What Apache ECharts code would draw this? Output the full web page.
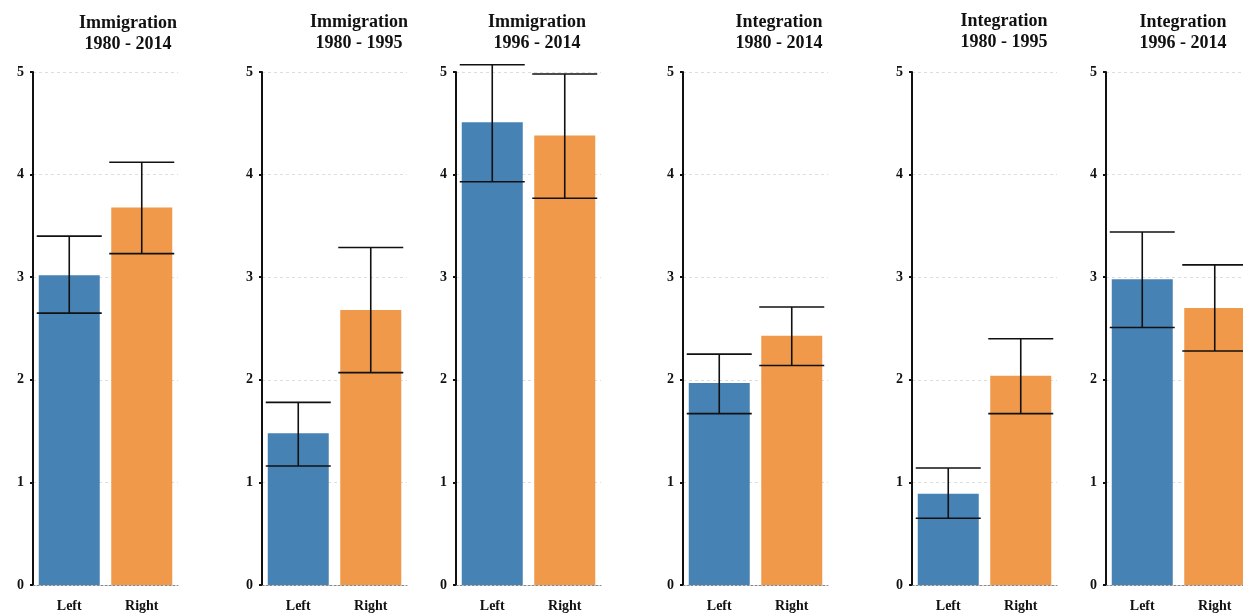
<!DOCTYPE html>
<html>
<head>
<meta charset="utf-8">
<script src="https://cdn.jsdelivr.net/npm/echarts@6/dist/echarts.min.js"></script>
<style>
  html, body { margin: 0; padding: 0; background: #fff; overflow: hidden; }
  #chart { width: 1262px; height: 613px; }
</style>
</head>
<body>
<div id="chart"></div>
<script>
// Mean attention score by ideology, with confidence intervals
const categories = ['Left', 'Right'];
const panelTopics = ['Immigration', 'Immigration', 'Immigration', 'Integration', 'Integration', 'Integration'];
const panelPeriods = ['1980 - 2014', '1980 - 1995', '1996 - 2014', '1980 - 2014', '1980 - 1995', '1996 - 2014'];

const means = [
  [3.02, 3.68],
  [1.48, 2.68],
  [4.51, 4.38],
  [1.97, 2.43],
  [0.89, 2.04],
  [2.98, 2.70]
];
const upper = [
  [3.40, 4.12],
  [1.78, 3.29],
  [5.07, 4.98],
  [2.25, 2.71],
  [1.14, 2.40],
  [3.44, 3.12]
];
const lower = [
  [2.65, 3.23],
  [1.16, 2.07],
  [3.93, 3.77],
  [1.67, 2.14],
  [0.65, 1.67],
  [2.51, 2.28]
];
const yTicks = [0, 1, 2, 3, 4, 5];

// layout of the six small multiples
const gridLefts = [33, 262, 456, 683, 912, 1106];
const titleCenters = [128, 359, 537, 779, 1004, 1183];
const titleTops = [13, 12, 12, 12, 11, 12];
const barColors = ['#4682b4', '#f0994a'];
const serif = '"Liberation Serif", "DejaVu Serif", serif';

const grids = [], xAxes = [], yAxes = [], series = [], graphics = [];

for (let i = 0; i < 6; i++) {
  grids.push({ left: gridLefts[i], top: 72, width: 145, height: 514 });
  xAxes.push({
    type: 'category', gridIndex: i, data: categories,
    axisLine: { lineStyle: { color: '#888', type: [2, 2], width: 1 } },
    axisTick: { show: false },
    axisLabel: { color: '#111', fontFamily: serif, fontWeight: 'bold', fontSize: 14, margin: 14 }
  });
  yAxes.push({
    type: 'value', gridIndex: i, min: yTicks[0], max: yTicks[yTicks.length - 1], interval: 1,
    axisLine: { show: true, lineStyle: { color: '#111', width: 2 } },
    axisTick: { show: true, length: 3, lineStyle: { color: '#111', width: 2 } },
    axisLabel: { color: '#111', fontFamily: serif, fontWeight: 'bold', fontSize: 14, margin: 9 },
    splitLine: { show: true, lineStyle: { color: '#ddd', type: [3, 3], width: 1 } }
  });
  series.push({
    type: 'bar', xAxisIndex: i, yAxisIndex: i, barWidth: 61,
    data: means[i].map((v, j) => ({ value: v, itemStyle: { color: barColors[j] } })),
    z: 2
  });
  series.push({
    type: 'custom', xAxisIndex: i, yAxisIndex: i, z: 5,
    data: categories.map((c, j) => [j, lower[i][j], upper[i][j]]),
    renderItem: function (params, api) {
      const lo = api.coord([api.value(0), api.value(1)]);
      const hi = api.coord([api.value(0), api.value(2)]);
      const half = 32.5;
      const style = { stroke: '#111', lineWidth: 1.6 };
      return {
        type: 'group',
        children: [
          { type: 'line', shape: { x1: hi[0], y1: hi[1], x2: lo[0], y2: lo[1] }, style: style },
          { type: 'line', shape: { x1: hi[0] - half, y1: hi[1], x2: hi[0] + half, y2: hi[1] }, style: style },
          { type: 'line', shape: { x1: lo[0] - half, y1: lo[1], x2: lo[0] + half, y2: lo[1] }, style: style }
        ]
      };
    }
  });
  graphics.push({
    type: 'text', x: titleCenters[i], y: titleTops[i],
    style: {
      text: panelTopics[i] + '\n' + panelPeriods[i],
      textAlign: 'center', textVerticalAlign: 'top',
      font: 'bold 18px ' + serif, lineHeight: 21, fill: '#111'
    }
  });
}

const chart = echarts.init(document.getElementById('chart'), null, { renderer: 'canvas' });
chart.setOption({
  animation: false,
  backgroundColor: '#fff',
  grid: grids,
  xAxis: xAxes,
  yAxis: yAxes,
  series: series,
  graphic: graphics
});
</script>
</body>
</html>
